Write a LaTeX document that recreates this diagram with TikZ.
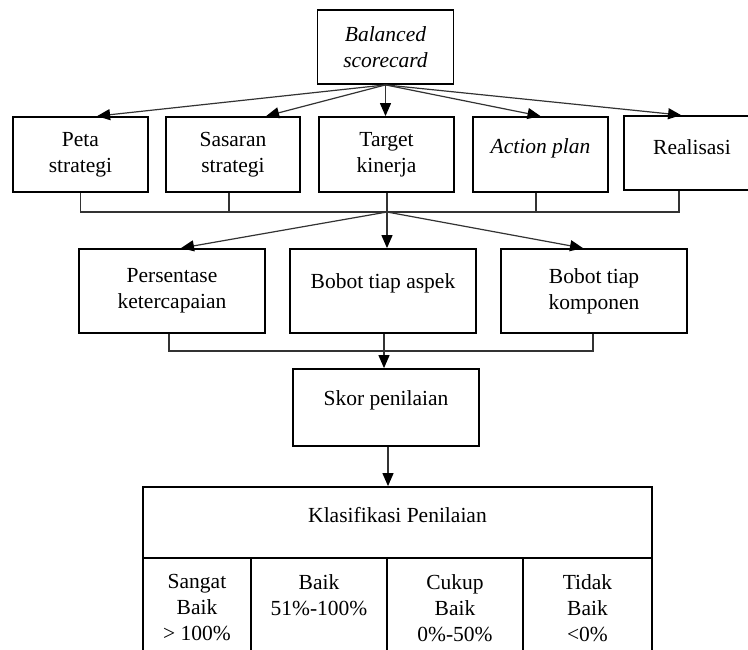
\documentclass[tikz,border=0pt]{standalone}
\usepackage{fontspec}
\setmainfont{Liberation Serif}
\usetikzlibrary{arrows.meta,calc}
\newcommand\liftT[2]{\raisebox{#1}[\height][\depth]{#2}}
\begin{document}
\begin{tikzpicture}[x=1pt,y=-1pt,
  box/.style={draw=black, line width=1.8pt, rectangle, align=center, inner sep=0pt,
    font=\fontsize{21.5}{26}\selectfont},
  conn/.style={draw=black!80, line width=1.2pt},
  arr/.style={conn, -{Triangle[length=13pt,width=11pt,black]}},
]
\useasboundingbox (0,0) rectangle (748,649);
\clip (0,0) rectangle (748,649);
\fill[white] (0,0) rectangle (748,649);

% top
\node[box, minimum width=136pt, minimum height=74pt] (bsc) at (385.5,47) {\textit{Balanced}\\\textit{scorecard}};

% row 1
\node[box, minimum width=135pt, minimum height=75pt] (peta) at (80.5,154.5) {Peta\\strategi};
\node[box, minimum width=134pt, minimum height=75pt] (sas) at (233,154.5) {Sasaran\\strategi};
\node[box, minimum width=135pt, minimum height=75pt] (tgt) at (386.5,154.5) {Target\\kinerja};
\node[box, minimum width=135pt, minimum height=75pt] (act) at (540.5,154.5) {\liftT{6pt}{\textit{Action plan}}};
\node[box, minimum width=136pt, minimum height=74pt] (real) at (692,153) {\liftT{6pt}{Realisasi}};

% row 2
\node[box, minimum width=186pt, minimum height=84pt] (pers) at (172,291) {Persentase\\ketercapaian};
\node[box, minimum width=186pt, minimum height=84pt] (bta) at (383,291) {\liftT{8pt}{Bobot tiap aspek}};
\node[box, minimum width=186pt, minimum height=84pt] (btk) at (594,291) {Bobot tiap\\komponen};

% score
\node[box, minimum width=186pt, minimum height=77pt] (skor) at (386,407.5) {\liftT{7pt}{Skor penilaian}};

% classification
\node[box, minimum width=509pt, minimum height=71pt] (klas) at (397.5,522.5) {\liftT{7pt}{Klasifikasi Penilaian}};
\node[box, minimum width=108pt, minimum height=100pt] (c1) at (197,608) {Sangat\\Baik\\> 100\%};
\node[box, minimum width=136pt, minimum height=100pt] (c2) at (319,608) {Baik\\51\%-100\%\\\phantom{0}};
\node[box, minimum width=136pt, minimum height=100pt] (c3) at (455,608) {Cukup\\Baik\\0\%-50\%};
\node[box, minimum width=129pt, minimum height=100pt] (c4) at (587.5,608) {Tidak\\Baik\\<0\%};

% arrows from balanced scorecard
\draw[arr] (bsc.south) -- ($(peta.north west)+(85,0)$);
\draw[arr] (bsc.south) -- ($(sas.north west)+(101,0)$);
\draw[arr] (bsc.south) -- (bsc.south |- tgt.north);
\draw[arr] (bsc.south) -- (act.north);
\draw[arr] (bsc.south) -- ($(real.north west)+(58,0)$);

% bracket 1
\coordinate (j1) at (387,212);
\draw[conn] (peta.south) |- (j1);
\draw[conn] ($(sas.south)+(-4,0)$) |- (j1);
\draw[conn] (tgt.south -| j1) -- (j1);
\draw[conn] ($(act.south)+(-4.5,0)$) |- (j1);
\draw[conn] ($(real.south)+(-13,0)$) |- (j1);

\draw[arr] (j1) -- ($(pers.north)+(9,0)$);
\draw[arr] (j1) -- (j1 |- bta.north);
\draw[arr] (j1) -- ($(btk.north)+(-11,0)$);

% bracket 2
\coordinate (j2) at (384,351);
\draw[conn] ($(pers.south)+(-3,0)$) |- (j2);
\draw[conn] ($(btk.south)+(-1,0)$) |- (j2);
\draw[conn] (bta.south -| j2) -- (j2);
\draw[arr] (j2) -- (j2 |- skor.north);

\coordinate (s1) at ($(skor.south)+(2,0)$);
\draw[arr] (s1) -- (s1 |- klas.north);
\end{tikzpicture}
\end{document}
